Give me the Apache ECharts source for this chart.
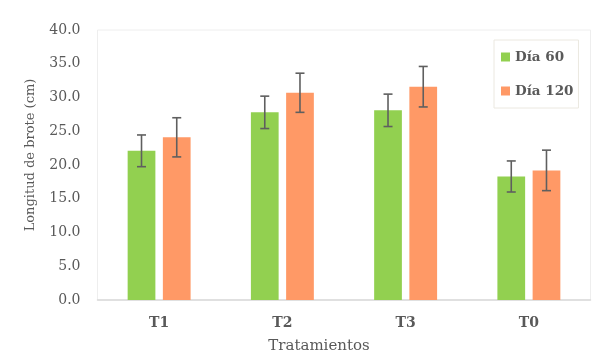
<!DOCTYPE html>
<html>
<head>
<meta charset="utf-8">
<script src="https://cdn.jsdelivr.net/npm/echarts@6/dist/echarts.min.js"></script>
<style>
html,body{margin:0;padding:0;background:#fff;}
#c{width:612px;height:357px;}
</style>
</head>
<body>
<div id="c"></div>
<script>
const categories = ['T1', 'T2', 'T3', 'T0'];
const seriesNames = ['Día 60', 'Día 120'];
const dia60 = [22.1, 27.8, 28.1, 18.3];
const dia120 = [24.1, 30.7, 31.6, 19.2];
const err60 = [2.35, 2.4, 2.4, 2.3];
const err120 = [2.9, 2.9, 3.0, 3.0];
const yAxisTitle = 'Longitud de brote (cm)';
const xAxisTitle = 'Tratamientos';

const FONT = 'DejaVu Serif';
const BAR_W = 0.225, BAR_GAP = 0.27;

function errSeries(values, errs, idx) {
  return {
    type: 'custom',
    z: 10,
    silent: true,
    data: values.map((v, i) => [i, v, errs[i]]),
    renderItem: function (params, api) {
      const i = api.value(0), v = api.value(1), e = api.value(2);
      const band = api.size([1, 0])[0];
      const bw = band * BAR_W, gap = bw * BAR_GAP;
      const off = (bw + gap) / 2 * (idx === 0 ? -1 : 1);
      const top = api.coord([i, v + e]);
      const bot = api.coord([i, v - e]);
      const x = top[0] + off;
      const cap = 4.5;
      const st = { stroke: '#5f5f5f', lineWidth: 1.6 };
      return {
        type: 'group',
        children: [
          { type: 'line', shape: { x1: x, y1: top[1], x2: x, y2: bot[1] }, style: st },
          { type: 'line', shape: { x1: x - cap, y1: top[1], x2: x + cap, y2: top[1] }, style: st },
          { type: 'line', shape: { x1: x - cap, y1: bot[1], x2: x + cap, y2: bot[1] }, style: st }
        ]
      };
    }
  };
}

const chart = echarts.init(document.getElementById('c'), null, { renderer: 'canvas' });
chart.setOption({
  animation: false,
  backgroundColor: '#fff',
  textStyle: { fontFamily: FONT },
  grid: {
    left: 97.5, right: 21.5, top: 30, bottom: 57,
    show: true, borderColor: '#eeeeee', borderWidth: 1
  },
  legend: {
    orient: 'vertical',
    left: 494, top: 40,
    padding: [9, 5, 9, 7],
    itemGap: 18,
    itemWidth: 9, itemHeight: 9,
    icon: 'rect',
    borderColor: '#ebe8e0', borderWidth: 1,
    selectedMode: false,
    textStyle: { fontFamily: FONT, fontSize: 13.5, fontWeight: 'bold', color: '#595959', lineHeight: 16 },
    data: seriesNames
  },
  xAxis: {
    type: 'category',
    data: categories,
    axisTick: { show: false },
    axisLine: { lineStyle: { color: '#d9d9d9', width: 1.5 } },
    axisLabel: { margin: 16, fontFamily: FONT, fontSize: 14, fontWeight: 'bold', color: '#595959' }
  },
  yAxis: {
    type: 'value',
    min: 0, max: 40, interval: 5,
    splitLine: { show: false },
    axisLine: { show: false },
    axisTick: { show: false },
    axisLabel: { margin: 17, fontFamily: FONT, fontSize: 14, color: '#595959',
      formatter: v => v.toFixed(1) }
  },
  graphic: [
    { type: 'text', x: 319, y: 346, style: { text: xAxisTitle, fontFamily: FONT, fontSize: 15, fill: '#595959', align: 'center', verticalAlign: 'middle' } },
    { type: 'text', x: 31, y: 155, rotation: Math.PI / 2, style: { text: yAxisTitle, fontFamily: FONT, fontSize: 13, fill: '#595959', align: 'center', verticalAlign: 'middle' } }
  ],
  series: [
    { name: seriesNames[0], type: 'bar', data: dia60, barWidth: (BAR_W * 100) + '%', barGap: (BAR_GAP * 100) + '%', itemStyle: { color: '#92D050' } },
    { name: seriesNames[1], type: 'bar', data: dia120, barWidth: (BAR_W * 100) + '%', itemStyle: { color: '#FF9966' } },
    errSeries(dia60, err60, 0),
    errSeries(dia120, err120, 1)
  ]
});
</script>
</body>
</html>
